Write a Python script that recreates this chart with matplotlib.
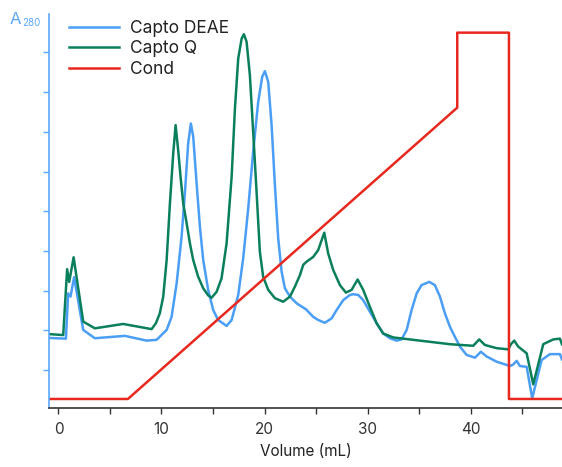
import matplotlib
matplotlib.use("Agg")
import matplotlib.pyplot as plt

plt.rcParams['font.family'] = ['Inter', 'DejaVu Sans']

# Capto DEAE (blue) trace, volume in mL and A280 in tick units
deae_x = [-1.22, 0.72, 0.94, 1.17, 1.52, 2.40, 3.53, 6.45, 8.55, 9.52, 9.84,
          10.50, 10.98, 11.47, 11.95, 12.27, 12.59, 12.85, 13.08, 13.41, 13.73,
          14.05, 14.53, 15.02, 15.50, 16.32, 16.81, 17.45, 17.93, 18.42, 18.90,
          19.39, 19.78, 20.04, 20.36, 20.69, 21.01, 21.33, 21.66, 21.98, 22.47,
          23.12, 24.02, 24.73, 25.21, 25.86, 26.51, 27.00, 27.64, 28.29, 28.61,
          29.10, 29.58, 30.23, 30.88, 31.52, 32.17, 32.82, 33.31, 33.80, 34.28,
          34.77, 35.25, 35.99, 36.54, 37.03, 37.51, 38.00, 38.32, 38.97, 39.62,
          40.43, 41.01, 41.56, 42.53, 43.83, 44.15, 44.48, 44.80, 45.45, 45.99,
          46.90, 47.71, 48.68, 48.87]
deae_y = [1.81, 1.79, 2.93, 2.85, 3.34, 2.01, 1.80, 1.86, 1.74, 1.76, 1.84,
          2.01, 2.34, 3.18, 4.36, 5.45, 6.71, 7.21, 6.88, 5.70, 4.61,
          3.77, 3.02, 2.51, 2.26, 2.11, 2.26, 2.89, 3.81, 5.07, 6.50,
          7.76, 8.39, 8.53, 8.26, 7.17, 5.66, 4.32, 3.48, 3.06, 2.85,
          2.68, 2.53, 2.34, 2.26, 2.19, 2.30, 2.51, 2.76, 2.89, 2.91,
          2.89, 2.76, 2.47, 2.18, 1.92, 1.80, 1.74, 1.77, 2.01, 2.51,
          2.93, 3.14, 3.22, 3.14, 2.85, 2.43, 2.09, 1.92, 1.59, 1.38,
          1.31, 1.46, 1.34, 1.21, 1.10, 1.14, 1.23, 1.10, 1.08, 0.29,
          1.25, 1.40, 1.40, 1.27]

# Capto Q (green) trace
q_x = [-1.22, 0.46, 0.84, 1.04, 1.47, 2.40, 3.53, 6.28, 9.04, 9.46, 9.84,
       10.17, 10.50, 10.82, 11.14, 11.37, 11.62, 11.85, 12.11, 12.44, 12.76,
       13.08, 13.56, 14.05, 14.53, 14.86, 15.35, 15.83, 16.32, 16.81, 17.13,
       17.45, 17.78, 18.00, 18.26, 18.58, 18.90, 19.23, 19.55, 19.87, 20.36,
       21.01, 21.82, 22.47, 22.95, 23.44, 23.76, 24.09, 24.73, 25.21, 25.80,
       26.18, 26.67, 27.32, 27.90, 28.46, 29.04, 29.58, 30.23, 30.88, 31.52,
       32.50, 35.09, 38.00, 40.26, 40.84, 41.40, 42.53, 43.66, 43.92, 44.24,
       44.63, 45.45, 46.09, 47.06, 48.03, 48.68, 48.87]
q_y = [1.91, 1.88, 3.54, 3.22, 3.84, 2.22, 2.05, 2.16, 2.03, 2.18, 2.43,
       2.85, 3.77, 5.20, 6.46, 7.17, 6.54, 5.87, 5.20, 4.70, 4.19,
       3.77, 3.35, 3.06, 2.88, 2.82, 2.97, 3.31, 4.19, 5.87, 7.59,
       8.85, 9.35, 9.46, 9.27, 8.43, 7.00, 5.49, 3.98, 3.35, 3.02,
       2.81, 2.72, 2.85, 3.10, 3.39, 3.65, 3.73, 3.85, 4.02, 4.46,
       3.94, 3.52, 3.14, 2.95, 3.02, 3.28, 3.02, 2.59, 2.18, 1.92,
       1.82, 1.74, 1.65, 1.61, 1.77, 1.63, 1.55, 1.52, 1.65, 1.74,
       1.59, 1.42, 0.64, 1.65, 1.77, 1.79, 1.65]

# Conductivity (red) gradient profile
cond_x = [-0.92, 6.74, 38.71, 38.71, 43.73, 43.73, 48.88]
cond_y = [0.27, 0.27, 7.61, 9.50, 9.50, 0.27, 0.27]

x_ticks = [0, 5, 10, 15, 20, 25, 30, 35, 40, 45]
x_labels = ['0', '', '10', '', '20', '', '30', '', '40', '']
y_ticks = [1, 2, 3, 4, 5, 6, 7, 8, 9]

blue = '#4a9ef5'
green = '#0a7f5c'
red = '#e8281e'
axis_blue = '#5aa8ff'

fig = plt.figure(figsize=(5.62, 4.67), dpi=100)
ax = fig.add_axes([49 / 562, 59.3 / 467, 513 / 562, 393.7 / 467])

ax.plot(deae_x, deae_y, color=blue, lw=1.8, label='Capto DEAE', solid_joinstyle='round')
ax.plot(q_x, q_y, color=green, lw=1.8, label='Capto Q', solid_joinstyle='round')
ax.plot(cond_x, cond_y, color=red, lw=1.8, label='Cond')

ax.set_xlim(-0.92, 48.88)
ax.set_ylim(0.05, 9.97)

ax.set_xticks(x_ticks)
ax.set_xticklabels(x_labels)
ax.set_yticks(y_ticks)
ax.set_yticklabels([])

ax.spines['top'].set_visible(False)
ax.spines['right'].set_visible(False)
ax.spines['left'].set_color(axis_blue)
ax.spines['left'].set_linewidth(1.2)
ax.spines['bottom'].set_color('#333333')
ax.spines['bottom'].set_linewidth(1.2)
ax.tick_params(axis='x', colors='#333333', length=4, width=1, labelsize=11, pad=6)
ax.tick_params(axis='y', colors=axis_blue, length=4, width=1)

ax.set_xlabel('Volume (mL)', fontsize=11, color='#222222', labelpad=5)

fig.text(10 / 562, 1 - 19 / 467, 'A', color=axis_blue, fontsize=12, va='center', ha='left')
fig.text(22 / 562, 1 - 23 / 467, '280', color=axis_blue, fontsize=7, va='center', ha='left')

ax.legend(loc='upper left', bbox_to_anchor=(0.039, 0.985), frameon=False,
          fontsize=12.5, handlelength=2.9, handletextpad=0.6, labelspacing=0.2,
          borderpad=0, borderaxespad=0, labelcolor='#222222')

fig.savefig('out.png', dpi=100)
